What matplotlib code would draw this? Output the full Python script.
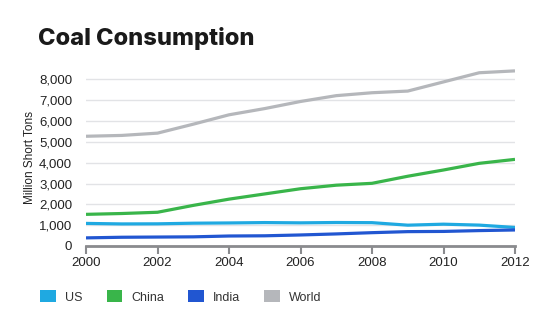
import matplotlib.pyplot as plt
from matplotlib.patches import Patch
from matplotlib.ticker import FuncFormatter

years = list(range(2000, 2013))
us = [1085, 1060, 1065, 1095, 1107, 1125, 1112, 1128, 1121, 1000, 1048, 1003, 889]
china = [1520, 1560, 1620, 1950, 2250, 2500, 2750, 2920, 3010, 3350, 3650, 3970, 4160]
india = [390, 420, 430, 440, 480, 490, 530, 580, 640, 690, 700, 740, 770]
world = [5270, 5310, 5420, 5850, 6300, 6600, 6940, 7220, 7360, 7440, 7880, 8320, 8410]

series = [('US', us, '#1fa9e1'), ('China', china, '#39b54a'),
          ('India', india, '#2156d1'), ('World', world, '#b5b7bb')]

W, H = 555, 330
fig = plt.figure(figsize=(W / 100, H / 100), dpi=100)
ax = fig.add_axes([86 / W, 1 - 246 / H, (515 - 86) / W, (246 - 69) / H])

for name, vals, col in series:
    ax.plot(years, vals, color=col, lw=2.3, solid_capstyle='butt', zorder=3)

ax.set_xlim(2000, 2012)
ax.set_ylim(0, 8500)
ax.set_xticks(range(2000, 2013, 2))
ax.set_yticks(range(0, 9000, 1000))
ax.yaxis.set_major_formatter(FuncFormatter(lambda v, p: f'{int(v):,}'))
ax.grid(axis='y', color='#e2e3e6', lw=1, zorder=0)
for s in ['top', 'right', 'left']:
    ax.spines[s].set_visible(False)
ax.spines['bottom'].set_color('#8a8b8e')
ax.spines['bottom'].set_linewidth(2)
ax.tick_params(axis='x', length=6, width=1.5, color='#8a8b8e', pad=2,
               labelsize=9.5, labelcolor='#222222')
ax.tick_params(axis='y', length=0, pad=10, labelsize=9.5, labelcolor='#222222')
for lab in ax.get_xticklabels() + ax.get_yticklabels():
    lab.set_family('Liberation Sans')

ax.set_ylabel('Million Short Tons', fontsize=8.5, color='#222222',
              family='Liberation Sans', labelpad=2)

fig.text(38 / W, 1 - 38 / H, 'Coal Consumption', fontsize=17, fontweight='heavy',
         family='Inter', color='#1a1a1a', va='center', ha='left')

handles = [Patch(facecolor=c, edgecolor='none', label=n) for n, _, c in series]
fig.legend(handles=handles, loc='center left', bbox_to_anchor=(29 / W, 1 - 297 / H),
           ncol=4, frameon=False, handlelength=1.25, handleheight=1.1,
           handletextpad=0.75, columnspacing=1.9,
           prop={'family': 'Liberation Sans', 'size': 9})
for t in fig.legends[0].get_texts():
    t.set_color('#333333')

fig.savefig('out.png', dpi=100, facecolor='white')
